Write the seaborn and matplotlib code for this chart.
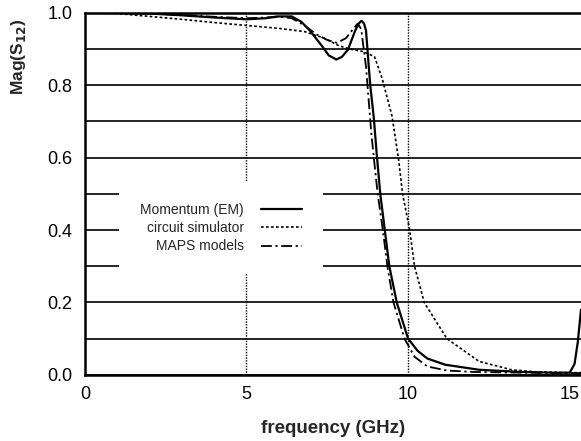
"""
|S12| vs frequency: Momentum (EM) vs circuit simulator vs MAPS models
"""
import pandas as pd
import matplotlib
matplotlib.use("Agg")
import matplotlib.pyplot as plt
import seaborn as sns

# --- values ---
EM_FREQ = [0, 1, 2, 3, 4, 5, 5.6, 6.0, 6.4, 6.7, 6.97, 7.33, 7.55, 7.78, 7.95,
           8.14, 8.36, 8.47, 8.56, 8.64, 8.7, 8.78, 8.83, 8.94, 9.03, 9.14,
           9.28, 9.42, 9.65, 10.0, 10.3, 10.6, 11.15, 12.2, 13.5, 14.5, 15.0,
           15.15, 15.25, 15.35]
EM_MAG = [1.0, 1.0, 0.998, 0.993, 0.987, 0.982, 0.985, 0.99, 0.99, 0.975, 0.95,
          0.909, 0.882, 0.871, 0.878, 0.898, 0.95, 0.97, 0.978, 0.97, 0.95,
          0.856, 0.8, 0.71, 0.61, 0.5, 0.4, 0.3, 0.2, 0.1, 0.066, 0.045, 0.028,
          0.014, 0.008, 0.006, 0.006, 0.03, 0.09, 0.18]

CKT_FREQ = [0, 1, 2, 3, 4, 5, 6, 6.8, 7.4, 7.86, 8.2, 8.6, 8.96, 9.2, 9.5,
            9.7, 9.83, 10.05, 10.2, 10.5, 11.2, 12.2, 13.2, 14.0, 15.0, 15.35]
CKT_MAG = [1.0, 0.998, 0.99, 0.982, 0.973, 0.965, 0.957, 0.948, 0.93, 0.909,
           0.9, 0.893, 0.879, 0.818, 0.716, 0.6, 0.5, 0.4, 0.3, 0.2, 0.1,
           0.037, 0.014, 0.008, 0.006, 0.006]

MAPS_FREQ = [0, 1, 2, 3, 4, 5, 5.6, 6.0, 6.4, 6.8, 7.17, 7.5, 7.8, 8.08,
             8.3, 8.44, 8.55, 8.7, 8.78, 8.86, 8.97, 9.06, 9.22, 9.36, 9.55,
             9.89, 10.2, 10.6, 11.2, 12.0, 13.5, 15.0, 15.35]
MAPS_MAG = [1.0, 1.0, 0.998, 0.994, 0.989, 0.985, 0.987, 0.99, 0.985, 0.965,
            0.94, 0.925, 0.917, 0.93, 0.955, 0.97, 0.955, 0.85, 0.76, 0.67,
            0.575, 0.5, 0.4, 0.3, 0.2, 0.1, 0.05, 0.023, 0.012, 0.008, 0.006,
            0.005, 0.005]

SERIES = ["Momentum (EM)", "circuit simulator", "MAPS models"]
Y_TICKS = [0.0, 0.2, 0.4, 0.6, 0.8, 1.0]
Y_MINOR = [0.1, 0.3, 0.5, 0.7, 0.9]
X_TICKS = [0, 5, 10, 15]
X_GRID = [5, 10]   # only these get a dotted vertical line


def main():
    sns.set_style("white")
    plt.rcParams["font.family"] = ["Liberation Sans", "DejaVu Sans"]

    df = pd.concat([
        pd.DataFrame({"freq": EM_FREQ, "mag": EM_MAG, "model": SERIES[0]}),
        pd.DataFrame({"freq": CKT_FREQ, "mag": CKT_MAG, "model": SERIES[1]}),
        pd.DataFrame({"freq": MAPS_FREQ, "mag": MAPS_MAG, "model": SERIES[2]}),
    ], ignore_index=True)

    fig = plt.figure(figsize=(5.81, 4.41), dpi=100)
    ax = fig.add_axes([0.146, 0.150, 0.854, 0.821])

    styles = {
        SERIES[0]: dict(linestyle="-", linewidth=1.6),
        SERIES[1]: dict(linestyle=(0, (1.6, 1.4)), linewidth=1.2),
        SERIES[2]: dict(linestyle=(0, (6, 2, 1.2, 2)), linewidth=1.3),
    }
    for name in SERIES:
        sub = df[df["model"] == name]
        sns.lineplot(data=sub, x="freq", y="mag", ax=ax, color="black",
                     label=name, sort=False, zorder=3, **styles[name])

    ax.set_xlim(0, 15.35)
    ax.set_ylim(0, 1.0)
    # minor x ticks sit on top of major ones; keep them so the grid draws
    ax.xaxis.remove_overlapping_locs = False
    ax.set_xticks(X_TICKS)
    ax.set_xticks(X_GRID, minor=True)
    ax.set_yticks(Y_TICKS)
    ax.set_yticks(Y_MINOR, minor=True)
    ax.set_yticklabels([f"{v:.1f}" for v in Y_TICKS])

    # gridlines: solid horizontals every 0.1, dotted verticals at 5 and 10
    ax.grid(axis="y", which="both", color="black", linewidth=1.2, zorder=1)
    ax.grid(axis="x", which="major", visible=False)
    ax.grid(axis="x", which="minor", color="black", linewidth=1.0,
            linestyle=(0, (1, 1)), zorder=1)
    ax.set_axisbelow(True)

    for side in ["left", "top", "bottom"]:
        ax.spines[side].set_color("black")
        ax.spines[side].set_linewidth(1.8)
    ax.spines["right"].set_visible(False)

    ax.tick_params(axis="both", which="both", length=0, labelsize=13,
                   colors="black")
    ax.tick_params(axis="x", pad=8)
    ax.tick_params(axis="y", pad=9)

    ax.set_xlabel("frequency (GHz)", fontsize=13.5, fontweight="bold",
                  labelpad=12)
    ax.set_ylabel("Mag(S$_{\\mathbf{12}}$)", fontsize=12.5, fontweight="bold",
                  labelpad=12)
    ax.yaxis.set_label_coords(-0.115, 0.88)

    leg = ax.legend(loc="center", bbox_to_anchor=(0.275, 0.405),
                    markerfirst=False, frameon=True, fontsize=10,
                    handlelength=3.0, handletextpad=1.2, labelspacing=0.3,
                    borderpad=1.5, borderaxespad=0)
    leg.get_frame().set_facecolor("white")
    leg.get_frame().set_edgecolor("none")
    leg.get_frame().set_alpha(1.0)
    for t in leg.get_texts():
        t.set_ha("right")

    fig.savefig("out.png", dpi=100)


if __name__ == "__main__":
    main()
